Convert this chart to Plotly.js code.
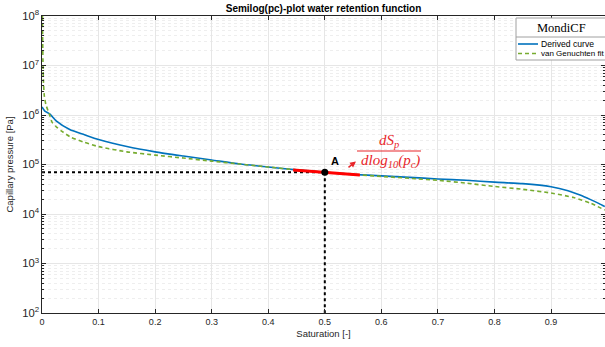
<!DOCTYPE html>
<html>
<head>
<meta charset="utf-8">
<script src="https://cdn.plot.ly/plotly-3.0.1.min.js"></script>
<style>html,body{margin:0;padding:0;background:#fff;}#chart{width:605px;height:347px;}</style>
</head>
<body>
<div id="chart"></div>
<script>
// Derived curve (blue)
var derivedS = [0, 0.005, 0.0136, 0.025, 0.049, 0.075, 0.1, 0.15, 0.2, 0.25, 0.3, 0.35, 0.4, 0.45, 0.5, 0.55, 0.6, 0.65, 0.7, 0.75, 0.8, 0.85, 0.9, 0.93, 0.95, 0.97, 0.985, 0.995];
var derivedP = [1.45e6, 1.2e6, 1.05e6, 7.6e5, 5.1e5, 4.0e5, 3.2e5, 2.3e5, 1.8e5, 1.48e5, 1.23e5, 1.02e5, 8.9e4, 7.8e4, 6.95e4, 6.3e4, 5.9e4, 5.5e4, 5.1e4, 4.8e4, 4.4e4, 4.1e4, 3.55e4, 2.95e4, 2.45e4, 1.95e4, 1.62e4, 1.41e4];
// van Genuchten fit (green dashed)
var vgS = [0.0008, 0.0012, 0.0018, 0.0025, 0.004, 0.007, 0.0136, 0.0177, 0.025, 0.034, 0.05, 0.075, 0.1, 0.15, 0.2, 0.25, 0.3, 0.35, 0.4, 0.45, 0.5, 0.55, 0.6, 0.65, 0.7, 0.75, 0.8, 0.85, 0.9, 0.94, 0.97, 0.995];
var vgP = [1e8, 3.2e7, 1e7, 5e6, 2.5e6, 1.6e6, 1.0e6, 7.2e5, 5.8e5, 4.8e5, 3.6e5, 2.8e5, 2.3e5, 1.8e5, 1.55e5, 1.35e5, 1.17e5, 1.02e5, 8.9e4, 7.8e4, 6.95e4, 6.3e4, 5.75e4, 5.25e4, 4.8e4, 4.2e4, 3.6e4, 3.15e4, 2.65e4, 2.15e4, 1.65e4, 1.2e4];
// Point A and tangent
var pointS = [0.5];
var pointP = [6.95e4];
var tangentS = [0.444, 0.562];
var tangentP = [7.75e4, 6.14e4];
var guideHS = [0, 0.5];
var guideHP = [6.95e4, 6.95e4];
var guideVS = [0.5, 0.5];
var guideVP = [6.95e4, 100];
var xTicks = [0, 0.1, 0.2, 0.3, 0.4, 0.5, 0.6, 0.7, 0.8, 0.9];
var xTickText = ['0', '0.1', '0.2', '0.3', '0.4', '0.5', '0.6', '0.7', '0.8', '0.9'];
var legendTitle = 'MondiCF';
var seriesNames = ['Derived curve', 'van Genuchten fit'];

var font = 'Liberation Sans, Arial, sans-serif';
var red = '#e8262b';
var blue = '#0072BD', green = '#77AC30';

var traces = [
  {x: guideHS, y: guideHP, mode: 'lines', line: {color: '#000', width: 2, dash: 'dot'}, hoverinfo: 'skip'},
  {x: guideVS, y: guideVP, mode: 'lines', line: {color: '#000', width: 2, dash: 'dot'}, hoverinfo: 'skip'},
  {x: derivedS, y: derivedP, mode: 'lines', name: seriesNames[0], line: {color: blue, width: 1.6, shape: 'spline', smoothing: 0.6}},
  {x: vgS, y: vgP, mode: 'lines', name: seriesNames[1], line: {color: green, width: 1.6, dash: '4px,3px', shape: 'spline', smoothing: 0.6}},
  {x: tangentS, y: tangentP, mode: 'lines', line: {color: '#ff0000', width: 3}},
  {x: pointS, y: pointP, mode: 'markers', marker: {color: '#000', size: 7}}
];

function px2x(p) { return (p - 42) / 563; }
function py2y(p) { return (313 - p) / 297; }
function note(px, py, text, f, xa) {
  return {x: px2x(px), y: py2y(py), xref: 'paper', yref: 'paper', xanchor: xa || 'center', yanchor: 'middle',
          text: text, showarrow: false, font: f};
}

var layout = {
  width: 605, height: 347,
  margin: {l: 42, r: 0, t: 16, b: 34, autoexpand: false},
  paper_bgcolor: '#fff', plot_bgcolor: '#fff',
  font: {family: font, size: 9, color: '#262626'},
  showlegend: false,
  title: {text: '<b>Semilog(pc)-plot water retention function</b>', font: {family: font, size: 10, color: '#000'},
          x: 0.5, xref: 'paper', xanchor: 'center', y: 1 - 8/347, yref: 'container', yanchor: 'middle'},
  xaxis: {
    range: [0, 0.9954], tickvals: xTicks, ticktext: xTickText,
    showgrid: true, gridcolor: '#e6e6e6', gridwidth: 1,
    zeroline: false, showline: true, linecolor: '#262626', linewidth: 1, mirror: 'ticks',
    ticks: 'inside', ticklen: 4, tickcolor: '#262626',
    tickfont: {size: 9, color: '#262626'},
    title: {text: 'Saturation [-]', font: {size: 9.5, color: '#262626'}, standoff: 4}
  },
  yaxis: {
    type: 'log', range: [2, 8], dtick: 1, exponentformat: 'power', showexponent: 'all',
    showgrid: true, gridcolor: '#e6e6e6', gridwidth: 1,
    zeroline: false, showline: true, linecolor: '#262626', linewidth: 1, mirror: 'ticks',
    ticks: 'inside', ticklen: 4, tickcolor: '#262626',
    tickfont: {size: 9, color: '#262626'},
    minor: {dtick: 'D1', ticks: 'inside', ticklen: 2, tickcolor: '#262626', showgrid: true, gridcolor: '#eeeeee', griddash: 'dot', gridwidth: 1},
    title: {text: 'Capillary pressure [Pa]', font: {size: 9.5, color: '#262626'}, standoff: 6}
  },
  shapes: [
    // legend box
    {type: 'rect', xref: 'paper', yref: 'paper', x0: px2x(516), x1: px2x(607), y0: py2y(60), y1: py2y(18), fillcolor: '#fff', line: {color: '#a0a0a0', width: 1}, layer: 'above'},
    {type: 'line', xref: 'paper', yref: 'paper', x0: px2x(516), x1: px2x(607), y0: py2y(37), y1: py2y(37), line: {color: '#a0a0a0', width: 1}, layer: 'above'},
    {type: 'line', xref: 'paper', yref: 'paper', x0: px2x(518), x1: px2x(538), y0: py2y(44), y1: py2y(44), line: {color: blue, width: 1.6}, layer: 'above'},
    {type: 'line', xref: 'paper', yref: 'paper', x0: px2x(518), x1: px2x(538), y0: py2y(53.5), y1: py2y(53.5), line: {color: green, width: 1.6, dash: '4px,3px'}, layer: 'above'},
    // fraction bar
    {type: 'line', xref: 'paper', yref: 'paper', x0: px2x(357), x1: px2x(421), y0: py2y(151), y1: py2y(151), line: {color: red, width: 1.2}, layer: 'above'}
  ],
  annotations: [
    note(561, 28, legendTitle, {family: 'Liberation Serif, Times New Roman, serif', size: 12.5, color: '#000'}),
    note(539, 44, seriesNames[0], {family: font, size: 8.6, color: '#000'}, 'left'),
    note(539, 53.5, seriesNames[1], {family: font, size: 8, color: '#000'}, 'left'),
    note(335, 161, '<b>A</b>', {family: font, size: 11, color: '#000'}),
    note(389, 141, '<i>dS<sub>p</sub></i>', {family: 'Liberation Serif, serif', size: 15, color: red}),
    note(390, 161, '<i>dlog<sub>10</sub>(p<sub>c</sub>)</i>', {family: 'Liberation Serif, serif', size: 15, color: red}),
    {x: px2x(356), y: py2y(161.5), xref: 'paper', yref: 'paper', text: '', showarrow: true, ax: -9, ay: 7, arrowcolor: red, arrowhead: 2, arrowsize: 0.8, arrowwidth: 1.5, standoff: 0}
  ]
};

Plotly.newPlot('chart', traces, layout, {displayModeBar: false, staticPlot: true});
</script>
</body>
</html>
